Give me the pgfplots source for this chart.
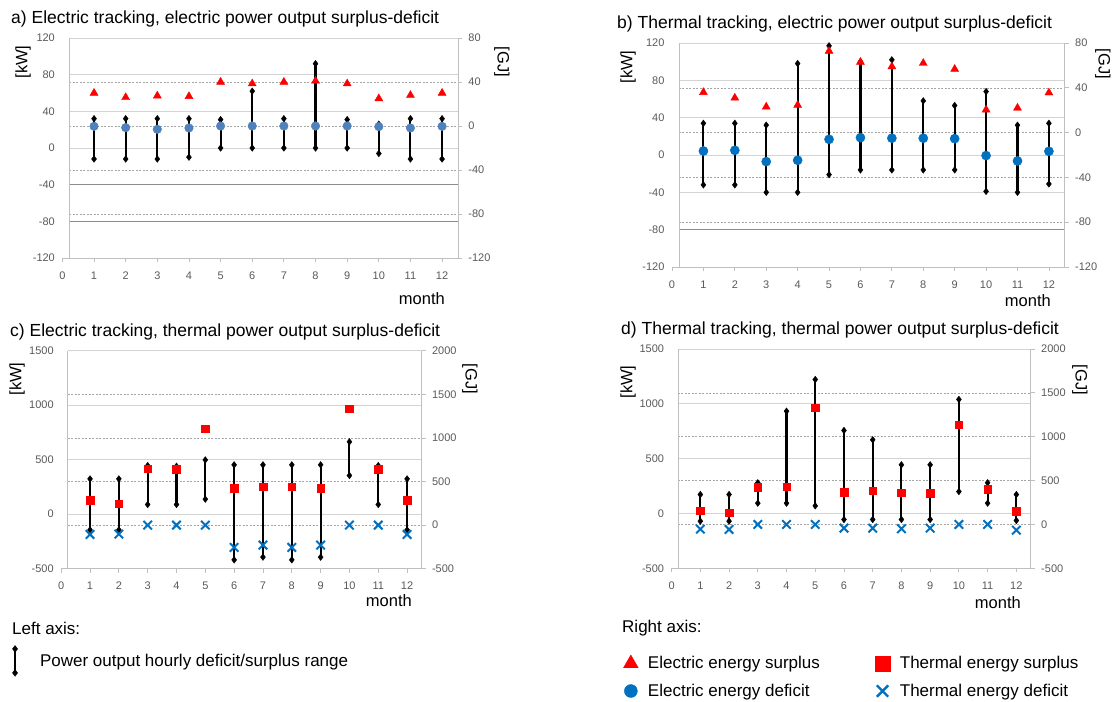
\documentclass[border=0pt]{standalone}
\usepackage{fontspec}
\setmainfont{Liberation Sans}
\usepackage{pgfplots}
\usepackage{pgfplotstable}
\pgfplotsset{compat=1.18}

\definecolor{ticktxt}{HTML}{595959}
\definecolor{axisgray}{HTML}{BFBFBF}
\definecolor{gridgray}{HTML}{D4D4D4}
\definecolor{griddark}{HTML}{8C8C8C}
\definecolor{dashgray}{HTML}{A6A6A6}
\definecolor{dotblueA}{HTML}{4F81BD}
\definecolor{dotblue}{HTML}{0070C0}

% hourly range, left axis [kW]
\pgfplotstableread{
m lo hi
1 -12 32
2 -12 32
3 -12 32
4 -10 32
5 0 31
6 0 62
7 0 32
8 0 92
9 0 31
10 -6 26
11 -12 32
12 -12 32
}\rangeA
\pgfplotstableread{
m lo hi
1 -32 34
2 -32 34
3 -40 32
4 -40 98
5 -21 117
6 -16 100
7 -16 102
8 -16 58
9 -16 53
10 -39 68
11 -40 32
12 -31 34
}\rangeB
\pgfplotstableread{
m lo hi
1 -144 324
2 -144 324
3 89 446
4 89 440
5 138 498
6 -419 453
7 -394 453
8 -419 453
9 -394 453
10 355 664
11 89 446
12 -144 324
}\rangeC
\pgfplotstableread{
m lo hi
1 -70 173
2 -70 173
3 94 280
4 94 933
5 70 1222
6 -55 757
7 -55 672
8 -55 444
9 -55 444
10 200 1040
11 94 280
12 -64 173
}\rangeD

% monthly energy, right axis [GJ]
\pgfplotstableread{
m sur def
1 30 -0.3
2 26 -1.5
3 27.5 -3
4 27 -1.8
5 40 0
6 38.5 0
7 40 0
8 41 0
9 38.5 0
10 25 -0.6
11 28 -1.8
12 30 -0.3
}\energyA
\pgfplotstableread{
m sur def
1 36 -16.4
2 31 -15.8
3 23 -25.9
4 24.6 -24.7
5 72.8 -6
6 63 -4.5
7 59 -5
8 62 -5
9 56.7 -5.4
10 20.4 -20.5
11 22 -25.3
12 35.6 -16.7
}\energyB
\pgfplotstableread{
m sur def
1 283 -107
2 245 -103
3 646 0
4 638 0
5 1105 0
6 420 -256
7 440 -229
8 440 -256
9 420 -229
10 1334 0
11 642 0
12 283 -107
}\energyC
\pgfplotstableread{
m sur def
1 156 -53
2 133 -57
3 422 0
4 429 0
5 1330 0
6 369 -42
7 384 -42
8 361 -49
9 353 -42
10 1136 0
11 403 0
12 152 -65
}\energyD

\tikzset{
  solidgrid/.style={gridgray, line width=0.8pt},
  darkgrid/.style={griddark, line width=0.8pt},
  dashgrid/.style={dashgray, line width=0.6pt, dash pattern=on 2pt off 1.5pt},
  ttl/.style={anchor=west, inner sep=0pt, font=\fontsize{17.5}{20}\selectfont},
  unit/.style={inner sep=0pt, font=\fontsize{16.5}{19}\selectfont},
}

\pgfplotsset{
  panelbase/.style={scale only axis, xmin=0, xmax=12.5, clip=false,
    scaled ticks=false,
    /pgf/number format/assume math mode=true,
    /pgf/number format/1000 sep={},
    tick label style={font=\fontsize{11}{13}\selectfont, text=ticktxt},
    tick align=outside, major tick length=4pt},
  leftpanel/.style={panelbase,
    axis x line*=bottom, axis y line*=left,
    x axis line style={draw=axisgray, line width=0.8pt, -},
    y axis line style={draw=none, -},
    xtick={0,...,12}, xtick style={draw=axisgray, line width=0.8pt},
    ytick style={draw=none},
    xticklabel style={yshift=-6pt}},
  rightpanel/.style={panelbase,
    axis x line=none, axis y line*=right,
    y axis line style={draw=axisgray, line width=0.8pt, -},
    ytick style={draw=axisgray, line width=0.8pt},
    yticklabel style={xshift=3pt}},
  rng/.style={black, only marks, mark=diamond*, mark size=3.3pt,
    error bars/y dir=plus, error bars/y explicit,
    error bars/error bar style={black, line width=2.1pt},
    error bars/error mark=diamond*,
    error bars/error mark options={black, mark size=3.3pt, rotate=90}},
}

\begin{document}
\begin{tikzpicture}
\path[use as bounding box] (0pt,0pt) rectangle (1112pt,-702pt);

% ---------- a) ----------
\begin{axis}[leftpanel, at={(62.4pt,-258pt)}, anchor=south west,
  width=395.5pt, height=220pt, ymin=-120, ymax=120, ytick={-120,-80,...,120}]
\pgfplotsinvokeforeach{120,80,40,0}{\draw[solidgrid] (axis cs:0.22,#1) -- (axis cs:12.5,#1);}
\pgfplotsinvokeforeach{-40,-80}{\draw[darkgrid] (axis cs:0.22,#1) -- (axis cs:12.5,#1);}
\pgfplotsinvokeforeach{72,24,-24,-72}{\draw[dashgrid] (axis cs:0.22,#1) -- (axis cs:12.5,#1);}
\draw[axisgray, line width=0.8pt] (axis cs:0.22,-120) -- (axis cs:0.22,120);
\addplot[rng] table[x=m, y=lo, y error expr=\thisrow{hi}-\thisrow{lo}] {\rangeA};
\end{axis}
\begin{axis}[rightpanel, at={(62.4pt,-258pt)}, anchor=south west,
  width=395.5pt, height=220pt, ymin=-120, ymax=80, ytick={-120,-80,...,80}]
\addplot[only marks, mark=triangle*, mark size=4.6pt, red] table[x=m, y=sur] {\energyA};
\addplot[only marks, mark=*, mark size=4.3pt, dotblueA] table[x=m, y=def] {\energyA};
\end{axis}

% ---------- b) ----------
\begin{axis}[leftpanel, at={(672pt,-267pt)}, anchor=south west,
  width=392.6pt, height=224pt, ymin=-120, ymax=120, ytick={-120,-80,...,120}]
\pgfplotsinvokeforeach{120,80,40,0,-40}{\draw[solidgrid] (axis cs:0.22,#1) -- (axis cs:12.5,#1);}
\draw[darkgrid] (axis cs:0.22,-80) -- (axis cs:12.5,-80);
\pgfplotsinvokeforeach{72,24,-24,-72}{\draw[dashgrid] (axis cs:0.22,#1) -- (axis cs:12.5,#1);}
\draw[axisgray, line width=0.8pt] (axis cs:0.22,-120) -- (axis cs:0.22,120);
\addplot[rng] table[x=m, y=lo, y error expr=\thisrow{hi}-\thisrow{lo}] {\rangeB};
\end{axis}
\begin{axis}[rightpanel, at={(672pt,-267pt)}, anchor=south west,
  width=392.6pt, height=224pt, ymin=-120, ymax=80, ytick={-120,-80,...,80}]
\addplot[only marks, mark=triangle*, mark size=4.6pt, red] table[x=m, y=sur] {\energyB};
\addplot[only marks, mark=*, mark size=4.6pt, dotblue] table[x=m, y=def] {\energyB};
\end{axis}

% ---------- c) ----------
\begin{axis}[leftpanel, at={(61.2pt,-568.7pt)}, anchor=south west,
  width=360.3pt, height=218pt, ymin=-500, ymax=1500, ytick={-500,0,...,1500}]
\pgfplotsinvokeforeach{1500,1000,500,0}{\draw[solidgrid] (axis cs:0.22,#1) -- (axis cs:12.5,#1);}
\pgfplotsinvokeforeach{1100,700,300,-100}{\draw[dashgrid] (axis cs:0.22,#1) -- (axis cs:12.5,#1);}
\draw[axisgray, line width=0.8pt] (axis cs:0.22,-500) -- (axis cs:0.22,1500);
\addplot[rng] table[x=m, y=lo, y error expr=\thisrow{hi}-\thisrow{lo}] {\rangeC};
\end{axis}
\begin{axis}[rightpanel, at={(61.2pt,-568.7pt)}, anchor=south west,
  width=360.3pt, height=218pt, ymin=-500, ymax=2000, ytick={-500,0,...,2000}]
\addplot[only marks, mark=square*, mark size=3.8pt, red] table[x=m, y=sur] {\energyC};
\addplot[only marks, mark=x, mark size=6pt, line width=2pt, dotblue] table[x=m, y=def] {\energyC};
\end{axis}

% ---------- d) ----------
\begin{axis}[leftpanel, at={(671.6pt,-568.3pt)}, anchor=south west,
  width=359.1pt, height=219.3pt, ymin=-500, ymax=1500, ytick={-500,0,...,1500}]
\pgfplotsinvokeforeach{1500,1000,500,0}{\draw[solidgrid] (axis cs:0.22,#1) -- (axis cs:12.5,#1);}
\pgfplotsinvokeforeach{1100,700,300,-100}{\draw[dashgrid] (axis cs:0.22,#1) -- (axis cs:12.5,#1);}
\draw[axisgray, line width=0.8pt] (axis cs:0.22,-500) -- (axis cs:0.22,1500);
\addplot[rng] table[x=m, y=lo, y error expr=\thisrow{hi}-\thisrow{lo}] {\rangeD};
\end{axis}
\begin{axis}[rightpanel, at={(671.6pt,-568.3pt)}, anchor=south west,
  width=359.1pt, height=219.3pt, ymin=-500, ymax=2000, ytick={-500,0,...,2000}]
\addplot[only marks, mark=square*, mark size=3.8pt, red] table[x=m, y=sur] {\energyD};
\addplot[only marks, mark=x, mark size=6pt, line width=2pt, dotblue] table[x=m, y=def] {\energyD};
\end{axis}

% ---------- legends ----------
\begin{axis}[hide axis, scale only axis, width=10pt, height=10pt,
  xmin=0, xmax=1, ymin=0, ymax=1, at={(12.5pt,-645.5pt)}, anchor=north west,
  legend style={at={(0,1)}, anchor=north west, draw=none, fill=none,
    inner sep=0pt, outer sep=0pt, nodes={inner sep=0pt},
    font=\fontsize{17}{20}\selectfont,
    /tikz/every odd column/.style={column sep=22.5pt}},
  legend cell align=left]
\addlegendimage{legend image code/.code={
  \draw[black, line width=2.1pt] (0pt,-12pt) -- (0pt,12pt);
  \draw[black, only marks, mark=diamond*, mark size=3.4pt] plot coordinates {(0pt,-12pt) (0pt,12pt)};}}
\addlegendentry{Power output hourly deficit/surplus range}
\end{axis}

\begin{axis}[hide axis, scale only axis, width=10pt, height=10pt,
  xmin=0, xmax=1, ymin=0, ymax=1, at={(623.5pt,-655pt)}, anchor=north west,
  legend columns=2,
  legend image code/.code={\draw[#1] plot coordinates {(0pt,0pt)};},
  legend style={at={(0,1)}, anchor=north west, draw=none, fill=none,
    inner sep=0pt, outer sep=0pt, nodes={inner sep=0pt},
    font=\fontsize{17}{20}\selectfont, row sep=13pt,
    /tikz/every odd column/.style={column sep=9.75pt},
    /tikz/every even column/.style={column sep=55pt}},
  legend cell align=left]
\addlegendimage{only marks, mark=triangle*, mark size=8.5pt, red}
\addlegendentry{Electric energy surplus}
\addlegendimage{only marks, mark=square*, mark size=7.6pt, red}
\addlegendentry{Thermal energy surplus}
\addlegendimage{only marks, mark=*, mark size=6.5pt, dotblue}
\addlegendentry{Electric energy deficit}
\addlegendimage{only marks, mark=x, mark size=8pt, line width=2.4pt, dotblue}
\addlegendentry{Thermal energy deficit}
\end{axis}

% ---------- text ----------
\node[ttl] at (11pt,-19pt) {a) Electric tracking, electric power output surplus-deficit};
\node[ttl] at (617pt,-24pt) {b) Thermal tracking, electric power output surplus-deficit};
\node[ttl] at (10pt,-332pt) {c) Electric tracking, thermal power output surplus-deficit};
\node[ttl] at (621pt,-330pt) {d) Thermal tracking, thermal power output surplus-deficit};

\node[unit, rotate=90] at (23pt,-62pt) {[kW]};
\node[unit, rotate=90] at (628pt,-67pt) {[kW]};
\node[unit, rotate=90] at (17pt,-379pt) {[kW]};
\node[unit, rotate=90] at (628pt,-382pt) {[kW]};
\node[unit, rotate=-90] at (502pt,-62pt) {[GJ]};
\node[unit, rotate=-90] at (1103pt,-64pt) {[GJ]};
\node[unit, rotate=-90] at (470pt,-379pt) {[GJ]};
\node[unit, rotate=-90] at (1080pt,-380pt) {[GJ]};

\node[unit, anchor=east] at (445pt,-299pt) {month};
\node[unit, anchor=east] at (1051pt,-301pt) {month};
\node[unit, anchor=east] at (412pt,-601pt) {month};
\node[unit, anchor=east] at (1021pt,-603pt) {month};

\node[anchor=west, inner sep=0pt, font=\fontsize{17}{20}\selectfont] at (12pt,-628pt) {Left axis:};
\node[anchor=west, inner sep=0pt, font=\fontsize{17}{20}\selectfont] at (622pt,-628pt) {Right axis:};
\end{tikzpicture}
\end{document}
